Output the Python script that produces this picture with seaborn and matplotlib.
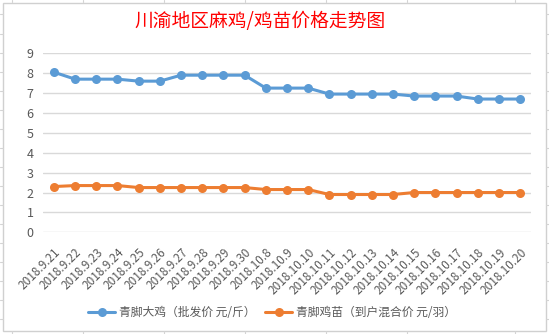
import matplotlib
matplotlib.use("Agg")
import matplotlib.pyplot as plt
import seaborn as sns
import pandas as pd
from matplotlib.patches import Rectangle
from matplotlib.lines import Line2D

dates = ["2018.9.21", "2018.9.22", "2018.9.23", "2018.9.24", "2018.9.25", "2018.9.26",
         "2018.9.27", "2018.9.28", "2018.9.29", "2018.9.30", "2018.10.8", "2018.10.9",
         "2018.10.10", "2018.10.11", "2018.10.12", "2018.10.13", "2018.10.14", "2018.10.15",
         "2018.10.16", "2018.10.17", "2018.10.18", "2018.10.19", "2018.10.20"]
big_chicken = [8.05, 7.7, 7.7, 7.7, 7.6, 7.6, 7.9, 7.9, 7.9, 7.9, 7.25, 7.25, 7.25,
               6.95, 6.95, 6.95, 6.95, 6.85, 6.85, 6.85, 6.7, 6.7, 6.7]
chick = [2.3, 2.35, 2.35, 2.35, 2.25, 2.25, 2.25, 2.25, 2.25, 2.25, 2.15, 2.15, 2.15,
         1.9, 1.9, 1.9, 1.9, 2.0, 2.0, 2.0, 2.0, 2.0, 2.0]
series_names = ["青脚大鸡（批发价 元/斤）", "青脚鸡苗（到户混合价 元/羽）"]
title = "川渝地区麻鸡/鸡苗价格走势图"
yticks = [0, 1, 2, 3, 4, 5, 6, 7, 8, 9]

sns.set_theme(style="white")
plt.rcParams['font.family'] = ['Noto Sans CJK SC', 'DejaVu Sans']

df = pd.DataFrame({
    "date": dates * 2,
    "price": big_chicken + chick,
    "series": [series_names[0]] * len(dates) + [series_names[1]] * len(dates),
})

colors = ["#5B9BD5", "#ED7D31"]
fig = plt.figure(figsize=(5.49, 3.34), dpi=100)
fig.patch.set_facecolor("white")

# spreadsheet background ticks and chart frame
grid_c = "#D4D4D4"
for yy in [14, 34, 53, 72, 91, 110, 129, 148, 167, 186, 205, 224, 243, 262, 281, 300, 319]:
    fig.add_artist(Line2D([0, 3 / 549], [1 - yy / 334] * 2, color=grid_c, lw=0.8))
    fig.add_artist(Line2D([545.5 / 549, 1], [1 - yy / 334] * 2, color=grid_c, lw=0.8))
for xx in [12, 83, 164, 245, 326, 407, 515]:
    fig.add_artist(Line2D([xx / 549] * 2, [0, 3 / 334], color=grid_c, lw=0.8))
    fig.add_artist(Line2D([xx / 549] * 2, [1 - 2 / 334, 1], color=grid_c, lw=0.8))
fig.add_artist(Rectangle((3 / 549, 3 / 334), 542.5 / 549, 328.5 / 334, transform=fig.transFigure,
                         fill=False, edgecolor="#D0D0D0", lw=1.0))

ax = fig.add_axes([43.3 / 549, 1 - 232.3 / 334, 487.4 / 549, 179 / 334])
sns.lineplot(data=df, x="date", y="price", hue="series", palette=colors, marker="o",
             markersize=6.5, markeredgewidth=0, linewidth=2.2, sort=False, ax=ax, legend=False)

ax.set_xlim(-0.5, len(dates) - 0.5)
ax.set_ylim(0, 9)
ax.set_yticks(yticks)
ax.set_yticklabels([str(v) for v in yticks], fontsize=9, color="#595959")
ax.set_xticks(range(len(dates)))
ax.set_xticklabels(dates, rotation=45, ha="right", rotation_mode="anchor",
                   fontsize=8.5, color="#595959")
ax.tick_params(axis="both", length=0)
ax.tick_params(axis="y", pad=7)
ax.tick_params(axis="x", pad=10)
ax.grid(axis="y", color="#D9D9D9", lw=1.0)
ax.grid(axis="x", visible=False)
for s in ax.spines.values():
    s.set_visible(False)
ax.set_xlabel("")
ax.set_ylabel("")

fig.text(260 / 549, 1 - 22 / 334, title, ha="center", va="center", fontsize=13.5,
         color="#FF0000", fontweight="medium")

handles = [Line2D([], [], color=c, lw=2.2, marker="o", markersize=6.5, markeredgewidth=0)
           for c in colors]
fig.legend(handles, series_names, loc="center", bbox_to_anchor=(272 / 549, 1 - 313 / 334),
           ncol=2, frameon=False, fontsize=8.5, labelcolor="#595959", handlelength=2.3,
           columnspacing=0.8, handletextpad=0.3)

fig.savefig("out.png", dpi=100, facecolor="white")
